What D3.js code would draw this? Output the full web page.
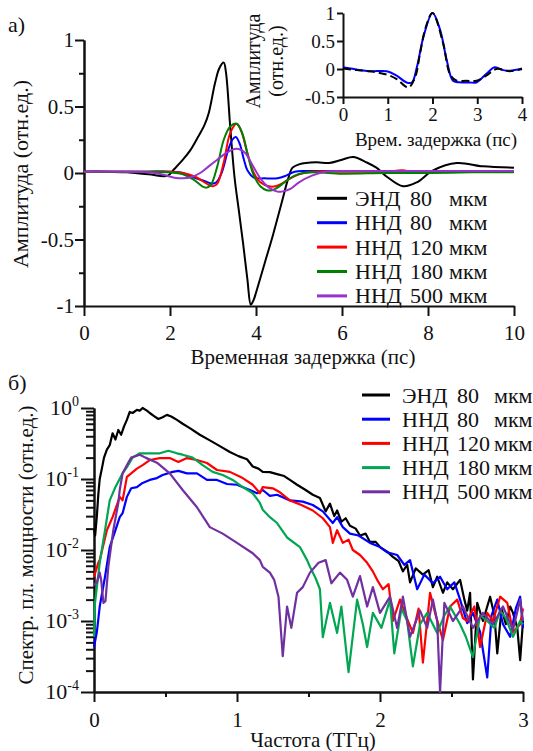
<!DOCTYPE html>
<html>
<head>
<meta charset="utf-8">
<script src="https://cdn.jsdelivr.net/npm/d3@7"></script>
<style>
  body { margin: 0; background: #fff; }
  svg text { font-family: "Liberation Serif", "Tinos", "DejaVu Serif", "Noto Serif", serif; fill: #111; }
</style>
</head>
<body>
<svg id="fig" width="533" height="751"></svg>
<script>
// legend / series labels
const sampleType = ["ЭНД", "ННД", "ННД", "ННД", "ННД"];
const sampleThick = ["80", "80", "120", "180", "500"];
const colorsA = ["#000000", "#0000ff", "#ff0000", "#008000", "#9932cc"];
const colorsB = ["#000000", "#0000ff", "#ff0000", "#00a651", "#7030a0"];

// ---- panel a) : waveforms, delay (ps) vs amplitude ----
const tEnd = [0, 0.5, 1.0, 1.5, 1.95, 2.1, 2.3, 2.47, 2.65, 2.8, 2.9, 3.05, 3.15, 3.25, 3.3, 3.4, 3.5, 3.6, 3.7, 3.8, 3.88, 3.95, 4.0, 4.2, 4.4, 4.6, 4.75, 4.85, 5.0, 5.4, 5.7, 6.0, 6.26, 6.57, 6.8, 7.05, 7.42, 7.74, 8.12, 8.67, 9.28, 10];
const aEnd = [0.01, 0.01, 0.005, -0.01, -0.02, 0.03, 0.1, 0.17, 0.27, 0.36, 0.45, 0.68, 0.79, 0.83, 0.76, 0.35, -0.03, -0.28, -0.53, -0.8, -0.99, -0.95, -0.9, -0.68, -0.46, -0.22, -0.04, 0.04, 0.065, 0.08, 0.075, 0.1, 0.12, 0.08, 0.04, -0.03, -0.1, -0.07, 0.02, 0.075, 0.05, 0.04];

const t80 = [0, 1, 1.5, 2.0, 2.3, 2.53, 2.8, 2.98, 3.08, 3.2, 3.35, 3.45, 3.53, 3.62, 3.72, 3.8, 3.95, 4.2, 4.5, 4.7, 4.9, 5.2, 6, 7, 8, 9, 10];
const a80 = [0.01, 0.01, 0.01, 0.01, 0.0, -0.03, -0.06, -0.08, -0.07, 0.0, 0.17, 0.25, 0.27, 0.22, 0.1, 0.02, -0.035, -0.04, -0.04, -0.02, 0.01, 0.015, 0.015, 0.015, 0.015, 0.015, 0.015];

const t120 = [0, 1, 1.5, 2.0, 2.3, 2.6, 2.85, 3.0, 3.1, 3.25, 3.4, 3.55, 3.65, 3.8, 3.95, 4.1, 4.3, 4.45, 4.6, 4.8, 5.0, 5.3, 6, 7, 7.4, 7.6, 7.8, 8.5, 10];
const a120 = [0.01, 0.01, 0.01, 0.01, 0.0, -0.03, -0.08, -0.1, -0.08, 0.08, 0.3, 0.37, 0.32, 0.15, 0.0, -0.07, -0.1, -0.1, -0.08, -0.04, -0.01, 0.01, 0.01, 0.01, 0.02, 0.01, 0.0, 0.01, 0.01];

const t180 = [0, 1, 1.5, 2.0, 2.3, 2.55, 2.75, 2.85, 2.95, 3.1, 3.25, 3.4, 3.55, 3.68, 3.82, 3.95, 4.1, 4.25, 4.37, 4.5, 4.7, 4.9, 5.1, 5.4, 6, 7, 8, 9, 10];
const a180 = [0.01, 0.01, 0.01, 0.005, -0.01, -0.05, -0.1, -0.11, -0.09, 0.05, 0.25, 0.35, 0.37, 0.3, 0.12, -0.02, -0.1, -0.13, -0.13, -0.11, -0.06, -0.02, 0.0, 0.005, -0.005, 0.0, 0.0, 0.005, 0.005];

const t500 = [0, 1, 1.5, 1.8, 2.1, 2.3, 2.5, 2.7, 2.9, 3.1, 3.3, 3.5, 3.6, 3.75, 3.9, 4.1, 4.3, 4.5, 4.6, 4.8, 5.0, 5.3, 5.6, 6, 7, 8, 9, 10];
const a500 = [0.01, 0.01, 0.005, -0.01, -0.035, -0.04, -0.03, 0.0, 0.05, 0.1, 0.15, 0.18, 0.18, 0.15, 0.07, -0.04, -0.11, -0.14, -0.14, -0.12, -0.07, -0.02, 0.01, 0.015, 0.015, 0.015, 0.015, 0.015];

// inset: measured (solid) vs model (dashed)
const tInsMeas = [0, 0.3, 0.6, 0.98, 1.2, 1.42, 1.54, 1.65, 1.8, 2.0, 2.17, 2.32, 2.46, 2.65, 2.83, 2.98, 3.2, 3.39, 3.58, 3.73, 4];
const aInsMeas = [0.03, -0.01, -0.04, -0.04, -0.12, -0.24, -0.24, 0.03, 0.58, 1.0, 0.7, 0.15, -0.21, -0.24, -0.24, -0.24, -0.09, 0.03, -0.02, -0.03, 0.01];
const tInsModel = [0, 0.3, 0.6, 0.98, 1.2, 1.46, 1.61, 1.72, 1.85, 2.0, 2.24, 2.39, 2.54, 2.75, 2.98, 3.2, 3.43, 3.73, 4];
const aInsModel = [0.01, -0.02, -0.04, -0.1, -0.18, -0.33, -0.15, 0.27, 0.75, 1.0, 0.45, -0.09, -0.21, -0.21, -0.21, -0.12, 0.0, -0.04, 0.0];

// ---- panel б) : spectral power density vs frequency (THz) ----
const fEnd = [0, 0.008, 0.02, 0.03, 0.04, 0.055, 0.07, 0.09, 0.11, 0.13, 0.15, 0.17, 0.19, 0.21, 0.23, 0.25, 0.27, 0.3, 0.32, 0.34, 0.37, 0.39, 0.42, 0.45, 0.48, 0.51, 0.54, 0.58, 0.62, 0.67, 0.74, 0.81, 0.88, 0.95, 1.01, 1.07, 1.11, 1.15, 1.18, 1.23, 1.28, 1.33, 1.37, 1.42, 1.48, 1.53, 1.58, 1.62, 1.65, 1.68, 1.7, 1.73, 1.76, 1.79, 1.83, 1.86, 1.9, 1.93, 1.97, 2.0, 2.05, 2.09, 2.13, 2.16, 2.19, 2.21, 2.25, 2.3, 2.34, 2.37, 2.4, 2.44, 2.47, 2.51, 2.56, 2.59, 2.61, 2.63, 2.65, 2.68, 2.72, 2.77, 2.8, 2.82, 2.85, 2.88, 2.91, 2.93, 2.96, 2.98, 3.0];
const pEnd = [0.02, 0.016, 0.03, 0.06, 0.1, 0.14, 0.2, 0.26, 0.3, 0.44, 0.36, 0.49, 0.42, 0.55, 0.68, 0.88, 0.85, 0.94, 0.92, 1.0, 0.92, 0.85, 0.77, 0.7, 0.74, 0.8, 0.76, 0.68, 0.6, 0.52, 0.42, 0.35, 0.29, 0.24, 0.21, 0.19, 0.15, 0.14, 0.126, 0.125, 0.117, 0.11, 0.097, 0.083, 0.07, 0.06, 0.054, 0.035, 0.045, 0.03, 0.036, 0.025, 0.028, 0.022, 0.02, 0.016, 0.017, 0.013, 0.013, 0.011, 0.0095, 0.008, 0.007, 0.005, 0.0062, 0.0035, 0.0055, 0.0045, 0.0052, 0.003, 0.0042, 0.0025, 0.0035, 0.0028, 0.0038, 0.002, 0.0014, 0.0025, 0.00015, 0.0018, 0.001, 0.0022, 0.0012, 0.00035, 0.0015, 0.0009, 0.0016, 0.0013, 0.0008, 0.00028, 0.001];

const f80 = [0, 0.02, 0.04, 0.077, 0.11, 0.15, 0.18, 0.2, 0.23, 0.26, 0.3, 0.34, 0.39, 0.44, 0.48, 0.55, 0.59, 0.65, 0.72, 0.79, 0.86, 0.93, 1.0, 1.09, 1.14, 1.18, 1.23, 1.28, 1.37, 1.46, 1.53, 1.6, 1.67, 1.7, 1.74, 1.79, 1.85, 1.93, 2.0, 2.05, 2.12, 2.17, 2.21, 2.26, 2.31, 2.37, 2.42, 2.47, 2.52, 2.56, 2.61, 2.65, 2.7, 2.75, 2.78, 2.82, 2.86, 2.91, 2.95, 2.98, 3.0];
const p80 = [0.00043, 0.0007, 0.0016, 0.0042, 0.011, 0.019, 0.029, 0.033, 0.056, 0.074, 0.077, 0.088, 0.097, 0.103, 0.114, 0.126, 0.13, 0.12, 0.12, 0.097, 0.097, 0.085, 0.083, 0.07, 0.063, 0.07, 0.058, 0.06, 0.05, 0.048, 0.043, 0.035, 0.024, 0.029, 0.021, 0.017, 0.016, 0.0126, 0.011, 0.0093, 0.0085, 0.0062, 0.0072, 0.0028, 0.0045, 0.0034, 0.0042, 0.0028, 0.0035, 0.002, 0.00093, 0.0013, 0.0007, 0.00016, 0.0012, 0.002, 0.0009, 0.0006, 0.0015, 0.0022, 0.0008];

const f120 = [0, 0.03, 0.04, 0.09, 0.13, 0.18, 0.2, 0.23, 0.26, 0.3, 0.34, 0.39, 0.46, 0.53, 0.59, 0.65, 0.72, 0.79, 0.86, 0.95, 1.04, 1.11, 1.16, 1.18, 1.25, 1.3, 1.37, 1.45, 1.53, 1.6, 1.65, 1.67, 1.7, 1.74, 1.78, 1.81, 1.86, 1.91, 1.95, 1.98, 2.02, 2.06, 2.09, 2.14, 2.18, 2.23, 2.27, 2.3, 2.35, 2.39, 2.44, 2.49, 2.54, 2.58, 2.61, 2.66, 2.7, 2.75, 2.79, 2.84, 2.89, 2.93, 2.98, 3.0];
const p120 = [0.0042, 0.0066, 0.0072, 0.019, 0.029, 0.056, 0.05, 0.107, 0.12, 0.14, 0.157, 0.185, 0.197, 0.197, 0.174, 0.197, 0.185, 0.168, 0.134, 0.126, 0.103, 0.083, 0.063, 0.077, 0.074, 0.065, 0.05, 0.043, 0.036, 0.028, 0.021, 0.0126, 0.019, 0.0126, 0.014, 0.01, 0.0085, 0.0066, 0.005, 0.0038, 0.0028, 0.0033, 0.001, 0.002, 0.0012, 0.00068, 0.0015, 0.00026, 0.0025, 0.0012, 0.00054, 0.0016, 0.002, 0.0011, 0.001, 0.0016, 0.00043, 0.0013, 0.001, 0.0022, 0.0018, 0.0007, 0.0009, 0.0015];

const f180 = [0, 0.007, 0.02, 0.04, 0.077, 0.11, 0.15, 0.2, 0.23, 0.27, 0.32, 0.39, 0.46, 0.52, 0.58, 0.62, 0.69, 0.76, 0.83, 0.9, 0.97, 1.04, 1.11, 1.16, 1.18, 1.23, 1.28, 1.35, 1.44, 1.49, 1.51, 1.55, 1.58, 1.6, 1.65, 1.7, 1.73, 1.78, 1.84, 1.88, 1.91, 1.95, 2.01, 2.07, 2.1, 2.15, 2.19, 2.23, 2.28, 2.33, 2.4, 2.45, 2.49, 2.56, 2.6, 2.65, 2.7, 2.75, 2.8, 2.84, 2.88, 2.93, 2.98, 3.0];
const p180 = [0.0006, 0.0018, 0.003, 0.0066, 0.019, 0.05, 0.077, 0.12, 0.147, 0.2, 0.23, 0.23, 0.23, 0.25, 0.23, 0.22, 0.2, 0.157, 0.126, 0.114, 0.097, 0.077, 0.063, 0.046, 0.037, 0.029, 0.024, 0.015, 0.011, 0.0072, 0.0058, 0.004, 0.0028, 0.00059, 0.0018, 0.00068, 0.0016, 0.00019, 0.002, 0.0009, 0.00043, 0.0013, 0.0008, 0.002, 0.00035, 0.0015, 0.001, 0.00023, 0.0009, 0.0013, 0.00068, 0.0012, 0.0016, 0.0009, 0.0006, 0.00031, 0.0012, 0.001, 0.0008, 0.0014, 0.0011, 0.0006, 0.001, 0.0009];

const f500 = [0, 0.02, 0.04, 0.05, 0.066, 0.08, 0.1, 0.135, 0.17, 0.18, 0.2, 0.24, 0.26, 0.32, 0.36, 0.44, 0.53, 0.62, 0.72, 0.81, 0.9, 1.0, 1.11, 1.16, 1.18, 1.23, 1.26, 1.29, 1.32, 1.35, 1.38, 1.42, 1.46, 1.51, 1.57, 1.62, 1.66, 1.72, 1.77, 1.81, 1.86, 1.91, 1.95, 2.0, 2.07, 2.12, 2.16, 2.21, 2.28, 2.33, 2.37, 2.4, 2.42, 2.45, 2.51, 2.58, 2.65, 2.72, 2.79, 2.86, 2.93, 2.98, 3.0];
const p500 = [0.0032, 0.0035, 0.0048, 0.0038, 0.0018, 0.0019, 0.0058, 0.019, 0.046, 0.07, 0.12, 0.17, 0.2, 0.22, 0.2, 0.17, 0.12, 0.07, 0.04, 0.021, 0.017, 0.0126, 0.009, 0.0072, 0.0058, 0.0048, 0.0038, 0.0022, 0.00032, 0.0016, 0.0008, 0.0025, 0.003, 0.0048, 0.0066, 0.0072, 0.0034, 0.0048, 0.0038, 0.0022, 0.0043, 0.0016, 0.003, 0.0013, 0.0022, 0.0008, 0.0022, 0.0006, 0.0014, 0.0008, 0.002, 0.001, 0.0001, 0.0018, 0.001, 0.0016, 0.0008, 0.0013, 0.0009, 0.0016, 0.00075, 0.002, 0.001];

const panelA = [[tEnd, aEnd], [t80, a80], [t120, a120], [t180, a180], [t500, a500]];
const panelB = [[fEnd, pEnd], [f80, p80], [f120, p120], [f180, p180], [f500, p500]];

const svg = d3.select("#fig");
const zip = (xs, ys) => xs.map((x, i) => [x, ys[i]]);
const num = d => String(d);

function styleAxis(g, size = 21) {
    g.selectAll("path.domain").attr("stroke", "#111").attr("stroke-width", 2);
    g.selectAll(".tick line").attr("stroke", "#111").attr("stroke-width", 2);
    g.attr("font-family", null);
    g.selectAll("text").attr("font-size", size).attr("fill", "#111");
}

// ===== panel a =====
const xA = d3.scaleLinear().domain([0, 10]).range([84, 514]);
const yA = d3.scaleLinear().domain([-1, 1]).range([306, 40]);

svg.append("g").attr("transform", "translate(0,306)")
    .call(d3.axisBottom(xA).tickValues([0, 2, 4, 6, 8, 10]).tickFormat(num)
        .tickSize(10).tickSizeOuter(0).tickPadding(9))
    .call(styleAxis);

svg.append("g").attr("transform", "translate(84,0)")
    .call(d3.axisLeft(yA).tickValues([-0.75, -0.25, 0.25, 0.75]).tickFormat("")
        .tickSize(5).tickSizeOuter(0))
    .call(styleAxis);
svg.append("g").attr("transform", "translate(84,0)")
    .call(d3.axisLeft(yA).tickValues([-1, -0.5, 0, 0.5, 1]).tickFormat(num)
        .tickSize(9).tickSizeOuter(0).tickPadding(1))
    .call(styleAxis);

const lineA = d3.line().x(d => xA(d[0])).y(d => yA(d[1])).curve(d3.curveCatmullRom);
panelA.forEach((s, i) => {
    svg.append("path").datum(zip(s[0], s[1]))
        .attr("fill", "none").attr("stroke", colorsA[i]).attr("stroke-width", 2)
        .attr("d", lineA);
});

svg.append("text").attr("x", 8).attr("y", 32).attr("font-size", 22).text("а)");
svg.append("text").attr("transform", "translate(28,174) rotate(-90)")
    .attr("text-anchor", "middle").attr("font-size", 22).text("Амплитуда (отн.ед.)");
svg.append("text").attr("x", 303).attr("y", 364)
    .attr("text-anchor", "middle").attr("font-size", 21).text("Временная задержка (пс)");

// legend a
sampleType.forEach((nm, i) => {
    const y = 198.3 + i * 24.4;
    svg.append("line").attr("x1", 317).attr("x2", 347).attr("y1", y).attr("y2", y)
        .attr("stroke", colorsA[i]).attr("stroke-width", 3);
    const t = svg.append("text").attr("y", y + 7.5).attr("font-size", 22);
    t.append("tspan").attr("x", 355).text(nm);
    t.append("tspan").attr("x", 410).text(sampleThick[i]);
    t.append("tspan").attr("x", 449).text("мкм");
});

// inset
const xI = d3.scaleLinear().domain([0, 4]).range([343, 522]);
const yI = d3.scaleLinear().domain([-0.5, 1]).range([97, 13]);
svg.append("g").attr("transform", "translate(0,97)")
    .call(d3.axisBottom(xI).tickValues([0, 1, 2, 3, 4]).tickFormat(num)
        .tickSize(7).tickSizeOuter(0).tickPadding(4))
    .call(styleAxis, 19);
svg.append("g").attr("transform", "translate(343,0)")
    .call(d3.axisLeft(yI).tickValues([-0.5, 0, 0.5, 1]).tickFormat(num)
        .tickSize(6).tickSizeOuter(0).tickPadding(2))
    .call(styleAxis, 19);
const lineI = d3.line().x(d => xI(d[0])).y(d => yI(d[1])).curve(d3.curveCatmullRom);
svg.append("path").datum(zip(tInsMeas, aInsMeas))
    .attr("fill", "none").attr("stroke", "#0000ff").attr("stroke-width", 2).attr("d", lineI);
svg.append("path").datum(zip(tInsModel, aInsModel))
    .attr("fill", "none").attr("stroke", "#000").attr("stroke-width", 2)
    .attr("stroke-dasharray", "8,4").attr("d", lineI);
svg.append("text").attr("x", 436).attr("y", 146).attr("text-anchor", "middle")
    .attr("font-size", 19).text("Врем. задержка (пс)");
svg.append("text").attr("transform", "translate(260,61) rotate(-90)")
    .attr("text-anchor", "middle").attr("font-size", 20).text("Амплитуда");
svg.append("text").attr("transform", "translate(283,61) rotate(-90)")
    .attr("text-anchor", "middle").attr("font-size", 20).text("(отн.ед.)");

// ===== panel б =====
const xB = d3.scaleLinear().domain([0, 3]).range([94, 523]);
const yB = d3.scaleLog().domain([1e-4, 1]).range([692, 408]);

svg.append("g").attr("transform", "translate(0,692)")
    .call(d3.axisBottom(xB).tickValues([0.5, 1.5, 2.5]).tickFormat("")
        .tickSize(5).tickSizeOuter(0))
    .call(styleAxis);
svg.append("g").attr("transform", "translate(0,692)")
    .call(d3.axisBottom(xB).tickValues([0, 1, 2, 3]).tickFormat(num)
        .tickSize(10).tickSizeOuter(0).tickPadding(10))
    .call(styleAxis);

const decades = [1e-4, 1e-3, 1e-2, 1e-1, 1];
const minorB = [];
decades.slice(0, 4).forEach(d => { for (let k = 2; k <= 9; k++) minorB.push(d * k); });
svg.append("g").attr("transform", "translate(94,0)")
    .call(d3.axisLeft(yB).tickValues(minorB).tickFormat("").tickSize(8).tickSizeOuter(0))
    .call(styleAxis);
svg.append("g").attr("transform", "translate(94,0)")
    .call(d3.axisLeft(yB).tickValues(decades).tickFormat("").tickSize(13).tickSizeOuter(0))
    .call(styleAxis);
decades.forEach(d => {
    const e = Math.round(Math.log10(d));
    const t = svg.append("text").attr("x", 79).attr("y", yB(d) + 7)
        .attr("text-anchor", "end").attr("font-size", 22);
    t.append("tspan").text("10");
    t.append("tspan").attr("dy", -9).attr("font-size", 14).text(e === 0 ? "0" : "-" + Math.abs(e));
});

const lineB = d3.line().x(d => xB(d[0])).y(d => yB(Math.max(d[1], 1e-4)));
panelB.forEach((s, i) => {
    svg.append("path").datum(zip(s[0], s[1]))
        .attr("fill", "none").attr("stroke", colorsB[i]).attr("stroke-width", 2.2)
        .attr("stroke-linejoin", "round").attr("d", lineB);
});

svg.append("text").attr("x", 8).attr("y", 390).attr("font-size", 22).text("б)");
svg.append("text").attr("transform", "translate(33,545) rotate(-90)")
    .attr("text-anchor", "middle").attr("font-size", 21).text("Спектр. пл. мощности (отн.ед.)");
svg.append("text").attr("x", 313).attr("y", 747)
    .attr("text-anchor", "middle").attr("font-size", 21).text("Частота (ТГц)");

// legend б
sampleType.forEach((nm, i) => {
    const y = 395 + i * 24.2;
    svg.append("line").attr("x1", 362).attr("x2", 390).attr("y1", y).attr("y2", y)
        .attr("stroke", colorsB[i]).attr("stroke-width", 3);
    const t = svg.append("text").attr("y", y + 7.5).attr("font-size", 22);
    t.append("tspan").attr("x", 402).text(nm);
    t.append("tspan").attr("x", 457).text(sampleThick[i]);
    t.append("tspan").attr("x", 494).text("мкм");
});
</script>
</body>
</html>
